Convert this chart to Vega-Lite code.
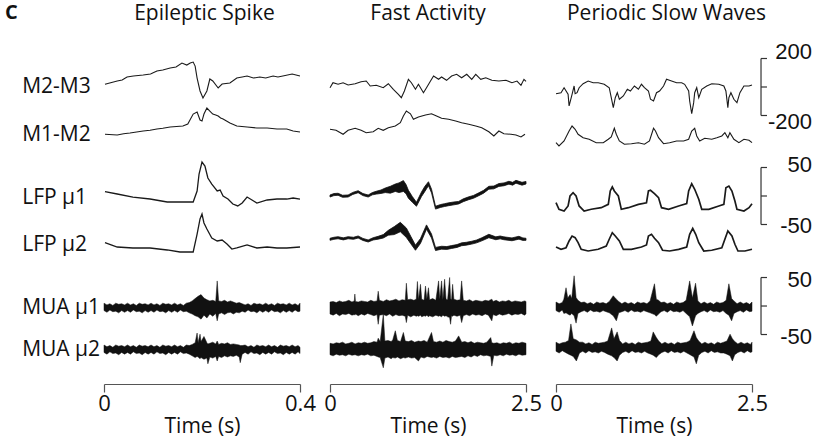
{
  "$schema": "https://vega.github.io/schema/vega-lite/v6.json",
  "background": "white",
  "padding": {"left": 5, "top": 2, "right": 0, "bottom": 0},
  "bounds": "flush",
  "spacing": 30,
  "config": {
    "view": {"stroke": null},
    "font": "Open Sans",
    "axis": {
      "grid": false, "domainColor": "#555", "tickColor": "#555", "domainWidth": 1.2, "tickWidth": 1.2, "tickSize": 8,
      "labelFont": "Open Sans", "labelFontSize": 22, "labelColor": "#111", "labelPadding": 1, "labelOverlap": false, "labelFlush": false,
      "titleFont": "Open Sans", "titleFontSize": 21, "titleFontWeight": "normal", "titleColor": "#111", "titlePadding": 1
    }
  },
  "datasets": {
    "es_m23": [{"t":0.002,"v":19},{"t":0.027,"v":42},{"t":0.037,"v":49},{"t":0.047,"v":70},{"t":0.06,"v":77},{"t":0.08,"v":84},{"t":0.095,"v":91},{"t":0.108,"v":112},{"t":0.12,"v":119},{"t":0.135,"v":133},{"t":0.147,"v":140},{"t":0.159,"v":168},{"t":0.169,"v":154},{"t":0.176,"v":168},{"t":0.182,"v":175},{"t":0.186,"v":147},{"t":0.19,"v":63},{"t":0.196,"v":-28},{"t":0.202,"v":-77},{"t":0.21,"v":-28},{"t":0.216,"v":56},{"t":0.222,"v":42},{"t":0.233,"v":-7},{"t":0.241,"v":21},{"t":0.257,"v":28},{"t":0.271,"v":63},{"t":0.282,"v":70},{"t":0.292,"v":77},{"t":0.305,"v":63},{"t":0.318,"v":70},{"t":0.33,"v":63},{"t":0.345,"v":77},{"t":0.355,"v":70},{"t":0.365,"v":77},{"t":0.384,"v":91},{"t":0.4,"v":77}],
    "es_m12": [{"t":0.002,"v":-16},{"t":0.027,"v":-21},{"t":0.04,"v":-12},{"t":0.053,"v":-7},{"t":0.08,"v":7},{"t":0.094,"v":12},{"t":0.108,"v":21},{"t":0.12,"v":26},{"t":0.135,"v":35},{"t":0.161,"v":42},{"t":0.171,"v":56},{"t":0.182,"v":126},{"t":0.19,"v":140},{"t":0.196,"v":84},{"t":0.2,"v":77},{"t":0.204,"v":126},{"t":0.21,"v":168},{"t":0.216,"v":147},{"t":0.222,"v":126},{"t":0.228,"v":119},{"t":0.233,"v":112},{"t":0.238,"v":98},{"t":0.243,"v":91},{"t":0.257,"v":63},{"t":0.271,"v":42},{"t":0.292,"v":35},{"t":0.312,"v":28},{"t":0.333,"v":28},{"t":0.353,"v":21},{"t":0.373,"v":21},{"t":0.386,"v":7},{"t":0.4,"v":0}],
    "es_l1": [{"t":0.002,"v":7.5},{"t":0.027,"v":3.5},{"t":0.059,"v":-1.8},{"t":0.094,"v":-5.3},{"t":0.129,"v":-10.5},{"t":0.155,"v":-10.5},{"t":0.182,"v":-10.5},{"t":0.19,"v":8.8},{"t":0.194,"v":38.6},{"t":0.2,"v":59.6},{"t":0.206,"v":52.6},{"t":0.212,"v":31.6},{"t":0.22,"v":21},{"t":0.231,"v":8.8},{"t":0.237,"v":10.5},{"t":0.243,"v":0},{"t":0.253,"v":-5.3},{"t":0.263,"v":-14},{"t":0.273,"v":-17.5},{"t":0.282,"v":-12.3},{"t":0.292,"v":-1.8},{"t":0.302,"v":-7},{"t":0.312,"v":-12.3},{"t":0.333,"v":-7},{"t":0.353,"v":-5.3},{"t":0.373,"v":-5.3},{"t":0.386,"v":-3.5},{"t":0.4,"v":-5.3}],
    "es_l2": [{"t":0.002,"v":5.8},{"t":0.027,"v":-1.8},{"t":0.059,"v":-3.5},{"t":0.094,"v":-3.5},{"t":0.129,"v":-7},{"t":0.155,"v":-10.5},{"t":0.182,"v":-10.5},{"t":0.19,"v":21},{"t":0.196,"v":47.4},{"t":0.2,"v":56},{"t":0.204,"v":40.4},{"t":0.21,"v":29.8},{"t":0.22,"v":14},{"t":0.231,"v":8.8},{"t":0.241,"v":10.5},{"t":0.251,"v":3.5},{"t":0.261,"v":-5.3},{"t":0.271,"v":-3.5},{"t":0.292,"v":1.8},{"t":0.312,"v":-3.5},{"t":0.333,"v":-1.8},{"t":0.353,"v":-3.5},{"t":0.373,"v":-3.5},{"t":0.4,"v":-1.8}],
    "es_u1": [{"t":0,"lo":-8,"hi":5},{"t":0.006,"lo":-11,"hi":2},{"t":0.012,"lo":-7,"hi":4},{"t":0.018,"lo":-10,"hi":1},{"t":0.024,"lo":-9,"hi":5},{"t":0.03,"lo":-12,"hi":3},{"t":0.036,"lo":-8,"hi":4},{"t":0.042,"lo":-11,"hi":2},{"t":0.048,"lo":-8,"hi":5},{"t":0.054,"lo":-11,"hi":2},{"t":0.06,"lo":-7,"hi":4},{"t":0.066,"lo":-10,"hi":1},{"t":0.072,"lo":-9,"hi":5},{"t":0.078,"lo":-12,"hi":3},{"t":0.084,"lo":-8,"hi":4},{"t":0.09,"lo":-11,"hi":2},{"t":0.096,"lo":-8,"hi":5},{"t":0.102,"lo":-11,"hi":2},{"t":0.108,"lo":-7,"hi":4},{"t":0.114,"lo":-10,"hi":1},{"t":0.12,"lo":-9,"hi":5},{"t":0.126,"lo":-12,"hi":3},{"t":0.132,"lo":-8,"hi":4},{"t":0.138,"lo":-11,"hi":2},{"t":0.144,"lo":-8,"hi":5},{"t":0.15,"lo":-11,"hi":2},{"t":0.156,"lo":-7,"hi":4},{"t":0.162,"lo":-10,"hi":1},{"t":0.168,"lo":-9,"hi":5},{"t":0.174,"lo":-12,"hi":6},{"t":0.18,"lo":-14,"hi":9},{"t":0.186,"lo":-17,"hi":13},{"t":0.192,"lo":-19,"hi":17},{"t":0.198,"lo":-23,"hi":20},{"t":0.204,"lo":-16,"hi":14},{"t":0.21,"lo":-21,"hi":11},{"t":0.216,"lo":-14,"hi":9},{"t":0.222,"lo":-18,"hi":10},{"t":0.228,"lo":-13,"hi":8},{"t":0.231,"lo":-26,"hi":44},{"t":0.234,"lo":-14,"hi":9},{"t":0.24,"lo":-12,"hi":8},{"t":0.246,"lo":-15,"hi":10},{"t":0.252,"lo":-12,"hi":7},{"t":0.258,"lo":-11,"hi":9},{"t":0.264,"lo":-14,"hi":7},{"t":0.27,"lo":-11,"hi":5},{"t":0.276,"lo":-12,"hi":6},{"t":0.282,"lo":-9,"hi":4},{"t":0.288,"lo":-11,"hi":2},{"t":0.294,"lo":-7,"hi":4},{"t":0.3,"lo":-10,"hi":1},{"t":0.306,"lo":-9,"hi":5},{"t":0.312,"lo":-12,"hi":3},{"t":0.318,"lo":-8,"hi":4},{"t":0.324,"lo":-11,"hi":2},{"t":0.33,"lo":-8,"hi":5},{"t":0.336,"lo":-11,"hi":2},{"t":0.342,"lo":-7,"hi":4},{"t":0.348,"lo":-10,"hi":1},{"t":0.354,"lo":-9,"hi":5},{"t":0.36,"lo":-12,"hi":3},{"t":0.366,"lo":-8,"hi":4},{"t":0.372,"lo":-11,"hi":2},{"t":0.378,"lo":-8,"hi":5},{"t":0.384,"lo":-11,"hi":2},{"t":0.39,"lo":-7,"hi":4},{"t":0.396,"lo":-10,"hi":1},{"t":0.4,"lo":-9,"hi":5}],
    "es_u2": [{"t":0,"lo":-6,"hi":7},{"t":0.006,"lo":-9,"hi":4},{"t":0.012,"lo":-5,"hi":6},{"t":0.018,"lo":-8,"hi":3},{"t":0.024,"lo":-7,"hi":7},{"t":0.03,"lo":-10,"hi":5},{"t":0.036,"lo":-6,"hi":6},{"t":0.042,"lo":-9,"hi":4},{"t":0.048,"lo":-6,"hi":7},{"t":0.054,"lo":-9,"hi":4},{"t":0.06,"lo":-5,"hi":6},{"t":0.066,"lo":-8,"hi":3},{"t":0.072,"lo":-7,"hi":7},{"t":0.078,"lo":-10,"hi":5},{"t":0.084,"lo":-6,"hi":6},{"t":0.09,"lo":-9,"hi":4},{"t":0.096,"lo":-6,"hi":7},{"t":0.102,"lo":-9,"hi":4},{"t":0.108,"lo":-5,"hi":6},{"t":0.114,"lo":-8,"hi":3},{"t":0.12,"lo":-7,"hi":7},{"t":0.126,"lo":-10,"hi":5},{"t":0.132,"lo":-6,"hi":6},{"t":0.138,"lo":-9,"hi":4},{"t":0.144,"lo":-6,"hi":7},{"t":0.15,"lo":-9,"hi":4},{"t":0.156,"lo":-5,"hi":6},{"t":0.162,"lo":-8,"hi":3},{"t":0.168,"lo":-7,"hi":7},{"t":0.174,"lo":-9,"hi":6},{"t":0.18,"lo":-12,"hi":8},{"t":0.186,"lo":-15,"hi":11},{"t":0.19,"lo":-13,"hi":28},{"t":0.192,"lo":-14,"hi":11},{"t":0.196,"lo":-17,"hi":26},{"t":0.198,"lo":-15,"hi":13},{"t":0.204,"lo":-18,"hi":22},{"t":0.21,"lo":-16,"hi":11},{"t":0.212,"lo":-26,"hi":9},{"t":0.216,"lo":-14,"hi":10},{"t":0.222,"lo":-16,"hi":12},{"t":0.228,"lo":-13,"hi":9},{"t":0.231,"lo":-21,"hi":14},{"t":0.234,"lo":-13,"hi":8},{"t":0.24,"lo":-15,"hi":10},{"t":0.246,"lo":-12,"hi":9},{"t":0.252,"lo":-14,"hi":11},{"t":0.258,"lo":-12,"hi":8},{"t":0.264,"lo":-13,"hi":9},{"t":0.27,"lo":-11,"hi":8},{"t":0.276,"lo":-14,"hi":7},{"t":0.278,"lo":-24,"hi":6},{"t":0.282,"lo":-9,"hi":6},{"t":0.288,"lo":-6,"hi":7},{"t":0.294,"lo":-9,"hi":4},{"t":0.3,"lo":-5,"hi":6},{"t":0.306,"lo":-8,"hi":3},{"t":0.312,"lo":-7,"hi":7},{"t":0.318,"lo":-10,"hi":5},{"t":0.324,"lo":-6,"hi":6},{"t":0.33,"lo":-9,"hi":4},{"t":0.336,"lo":-6,"hi":7},{"t":0.342,"lo":-9,"hi":4},{"t":0.348,"lo":-5,"hi":6},{"t":0.354,"lo":-8,"hi":3},{"t":0.36,"lo":-7,"hi":7},{"t":0.366,"lo":-10,"hi":5},{"t":0.372,"lo":-6,"hi":6},{"t":0.378,"lo":-9,"hi":4},{"t":0.384,"lo":-6,"hi":7},{"t":0.39,"lo":-9,"hi":4},{"t":0.396,"lo":-5,"hi":6},{"t":0.4,"lo":-8,"hi":3}],
    "fa_m23": [{"t":0,"v":-5},{"t":0.038,"v":30},{"t":0.103,"v":19},{"t":0.167,"v":30},{"t":0.231,"v":14},{"t":0.321,"v":23},{"t":0.397,"v":37},{"t":0.462,"v":42},{"t":0.513,"v":7},{"t":0.59,"v":12},{"t":0.679,"v":-5},{"t":0.744,"v":23},{"t":0.808,"v":-16},{"t":0.872,"v":-51},{"t":0.91,"v":-75},{"t":0.949,"v":-28},{"t":1.0,"v":54},{"t":1.038,"v":30},{"t":1.09,"v":-16},{"t":1.128,"v":19},{"t":1.192,"v":-40},{"t":1.231,"v":-5},{"t":1.282,"v":42},{"t":1.321,"v":77},{"t":1.385,"v":54},{"t":1.423,"v":70},{"t":1.487,"v":47},{"t":1.551,"v":77},{"t":1.615,"v":89},{"t":1.679,"v":65},{"t":1.744,"v":89},{"t":1.808,"v":54},{"t":1.859,"v":89},{"t":1.923,"v":54},{"t":1.987,"v":65},{"t":2.064,"v":47},{"t":2.154,"v":42},{"t":2.244,"v":47},{"t":2.321,"v":30},{"t":2.385,"v":42},{"t":2.436,"v":12},{"t":2.474,"v":54},{"t":2.5,"v":40}],
    "fa_m12": [{"t":0,"v":19},{"t":0.077,"v":12},{"t":0.167,"v":-16},{"t":0.231,"v":12},{"t":0.321,"v":26},{"t":0.397,"v":12},{"t":0.462,"v":-5},{"t":0.551,"v":2},{"t":0.615,"v":26},{"t":0.679,"v":12},{"t":0.744,"v":30},{"t":0.833,"v":42},{"t":0.897,"v":65},{"t":0.936,"v":112},{"t":0.974,"v":147},{"t":1.026,"v":128},{"t":1.064,"v":89},{"t":1.128,"v":105},{"t":1.218,"v":119},{"t":1.295,"v":128},{"t":1.359,"v":112},{"t":1.423,"v":96},{"t":1.513,"v":89},{"t":1.603,"v":77},{"t":1.679,"v":65},{"t":1.769,"v":54},{"t":1.859,"v":42},{"t":1.936,"v":30},{"t":2.026,"v":2},{"t":2.09,"v":-28},{"t":2.154,"v":7},{"t":2.218,"v":-12},{"t":2.308,"v":-16},{"t":2.372,"v":-21},{"t":2.436,"v":-35},{"t":2.487,"v":-16}],
    "fa_l1": [{"t":0,"lo":-1.8,"hi":1.8},{"t":0.05,"lo":0.7,"hi":4.3},{"t":0.103,"lo":1.2,"hi":4.8},{"t":0.16,"lo":-2.3,"hi":1.3},{"t":0.231,"lo":-1.8,"hi":1.8},{"t":0.29,"lo":2.7,"hi":6.3},{"t":0.359,"lo":5.7,"hi":9.3},{"t":0.42,"lo":0.7,"hi":4.3},{"t":0.487,"lo":-1.8,"hi":1.8},{"t":0.54,"lo":2,"hi":6},{"t":0.59,"lo":3.3,"hi":8.3},{"t":0.65,"lo":4.5,"hi":10.5},{"t":0.705,"lo":6,"hi":14},{"t":0.77,"lo":5,"hi":17},{"t":0.833,"lo":8,"hi":21},{"t":0.88,"lo":6,"hi":23},{"t":0.936,"lo":8,"hi":27},{"t":0.97,"lo":4,"hi":20},{"t":1.0,"lo":-4,"hi":10},{"t":1.05,"lo":-11,"hi":-1},{"t":1.103,"lo":-18,"hi":-11},{"t":1.167,"lo":-1,"hi":7},{"t":1.21,"lo":8,"hi":17},{"t":1.256,"lo":18,"hi":25},{"t":1.295,"lo":5.5,"hi":12},{"t":1.346,"lo":-23,"hi":-18},{"t":1.41,"lo":-20,"hi":-15},{"t":1.46,"lo":-18.5,"hi":-13.5},{"t":1.513,"lo":-17,"hi":-12},{"t":1.58,"lo":-15.5,"hi":-10.5},{"t":1.641,"lo":-14,"hi":-9.5},{"t":1.7,"lo":-10,"hi":-5},{"t":1.769,"lo":-6.5,"hi":-1.5},{"t":1.83,"lo":-4,"hi":1},{"t":1.897,"lo":0.5,"hi":5.5},{"t":1.96,"lo":5,"hi":10},{"t":2.026,"lo":12,"hi":17},{"t":2.09,"lo":12.5,"hi":17.5},{"t":2.154,"lo":16.8,"hi":21.8},{"t":2.22,"lo":18,"hi":23},{"t":2.282,"lo":20.8,"hi":25.8},{"t":2.33,"lo":19,"hi":24},{"t":2.372,"lo":22.5,"hi":27.5},{"t":2.449,"lo":19,"hi":24},{"t":2.5,"lo":21,"hi":25.5}],
    "fa_l2": [{"t":0,"lo":10,"hi":13.5},{"t":0.05,"lo":11.7,"hi":15.3},{"t":0.103,"lo":12.7,"hi":16.3},{"t":0.17,"lo":10.7,"hi":14.3},{"t":0.231,"lo":12.7,"hi":16.3},{"t":0.3,"lo":11.7,"hi":15.3},{"t":0.359,"lo":14,"hi":17.6},{"t":0.42,"lo":9.7,"hi":13.3},{"t":0.487,"lo":7,"hi":10.6},{"t":0.55,"lo":10.5,"hi":14.5},{"t":0.615,"lo":12,"hi":17},{"t":0.68,"lo":14,"hi":20},{"t":0.744,"lo":19,"hi":27.5},{"t":0.82,"lo":20,"hi":34},{"t":0.897,"lo":25,"hi":41.5},{"t":0.974,"lo":15,"hi":31.5},{"t":1.03,"lo":4,"hi":17},{"t":1.09,"lo":-7.5,"hi":1.5},{"t":1.154,"lo":4.5,"hi":13},{"t":1.231,"lo":29.5,"hi":37},{"t":1.295,"lo":14,"hi":21},{"t":1.346,"lo":-8,"hi":-2.5},{"t":1.423,"lo":-5.5,"hi":-0.5},{"t":1.49,"lo":-6,"hi":-1},{"t":1.551,"lo":-4.3,"hi":0.7},{"t":1.62,"lo":-2.5,"hi":2.5},{"t":1.679,"lo":0.5,"hi":5.5},{"t":1.74,"lo":1.5,"hi":6.5},{"t":1.808,"lo":3.3,"hi":8.3},{"t":1.87,"lo":5.5,"hi":10.5},{"t":1.936,"lo":9,"hi":14.4},{"t":2.026,"lo":14.5,"hi":20.5},{"t":2.115,"lo":11,"hi":16},{"t":2.17,"lo":12.5,"hi":17.5},{"t":2.218,"lo":11,"hi":16},{"t":2.321,"lo":9.2,"hi":14.2},{"t":2.41,"lo":12,"hi":17},{"t":2.46,"lo":9.8,"hi":14.2},{"t":2.5,"lo":9.9,"hi":13.5}],
    "fa_u1": [{"t":0,"lo":-14,"hi":7},{"t":0.04,"lo":-16,"hi":8},{"t":0.08,"lo":-13,"hi":6},{"t":0.12,"lo":-17,"hi":9},{"t":0.16,"lo":-14,"hi":7},{"t":0.2,"lo":-15,"hi":8},{"t":0.24,"lo":-13,"hi":10},{"t":0.28,"lo":-16,"hi":7},{"t":0.31,"lo":-15,"hi":9},{"t":0.317,"lo":-16,"hi":21},{"t":0.325,"lo":-14,"hi":8},{"t":0.36,"lo":-17,"hi":7},{"t":0.4,"lo":-14,"hi":9},{"t":0.44,"lo":-16,"hi":8},{"t":0.48,"lo":-13,"hi":7},{"t":0.52,"lo":-15,"hi":10},{"t":0.56,"lo":-17,"hi":8},{"t":0.6,"lo":-15,"hi":9},{"t":0.615,"lo":-32,"hi":26},{"t":0.63,"lo":-16,"hi":10},{"t":0.68,"lo":-15,"hi":8},{"t":0.72,"lo":-17,"hi":11},{"t":0.76,"lo":-14,"hi":9},{"t":0.8,"lo":-18,"hi":10},{"t":0.84,"lo":-15,"hi":12},{"t":0.88,"lo":-17,"hi":9},{"t":0.92,"lo":-16,"hi":11},{"t":0.96,"lo":-18,"hi":10},{"t":0.974,"lo":-29,"hi":40},{"t":0.99,"lo":-16,"hi":11},{"t":1.03,"lo":-19,"hi":12},{"t":1.07,"lo":-16,"hi":10},{"t":1.1,"lo":-18,"hi":12},{"t":1.115,"lo":-17,"hi":43},{"t":1.13,"lo":-18,"hi":11},{"t":1.154,"lo":-16,"hi":38},{"t":1.17,"lo":-19,"hi":12},{"t":1.2,"lo":-17,"hi":10},{"t":1.218,"lo":-18,"hi":35},{"t":1.235,"lo":-16,"hi":12},{"t":1.256,"lo":-19,"hi":32},{"t":1.27,"lo":-17,"hi":11},{"t":1.31,"lo":-19,"hi":13},{"t":1.35,"lo":-16,"hi":10},{"t":1.385,"lo":-18,"hi":44},{"t":1.4,"lo":-17,"hi":12},{"t":1.423,"lo":-19,"hi":44},{"t":1.44,"lo":-16,"hi":11},{"t":1.462,"lo":-18,"hi":47},{"t":1.48,"lo":-17,"hi":12},{"t":1.5,"lo":-19,"hi":11},{"t":1.526,"lo":-20,"hi":50},{"t":1.538,"lo":-32,"hi":13},{"t":1.55,"lo":-17,"hi":11},{"t":1.564,"lo":-18,"hi":38},{"t":1.58,"lo":-16,"hi":12},{"t":1.62,"lo":-18,"hi":10},{"t":1.66,"lo":-16,"hi":11},{"t":1.679,"lo":-29,"hi":44},{"t":1.7,"lo":-17,"hi":10},{"t":1.74,"lo":-15,"hi":9},{"t":1.78,"lo":-17,"hi":11},{"t":1.82,"lo":-14,"hi":8},{"t":1.86,"lo":-16,"hi":10},{"t":1.9,"lo":-15,"hi":9},{"t":1.94,"lo":-17,"hi":8},{"t":1.98,"lo":-14,"hi":10},{"t":2.02,"lo":-16,"hi":9},{"t":2.064,"lo":-26,"hi":12},{"t":2.08,"lo":-15,"hi":8},{"t":2.12,"lo":-17,"hi":10},{"t":2.16,"lo":-14,"hi":7},{"t":2.2,"lo":-16,"hi":9},{"t":2.24,"lo":-15,"hi":8},{"t":2.28,"lo":-13,"hi":10},{"t":2.32,"lo":-16,"hi":7},{"t":2.36,"lo":-14,"hi":9},{"t":2.4,"lo":-15,"hi":8},{"t":2.44,"lo":-13,"hi":7},{"t":2.48,"lo":-16,"hi":9},{"t":2.5,"lo":-14,"hi":8}],
    "fa_u2": [{"t":0,"lo":-10,"hi":10},{"t":0.04,"lo":-12,"hi":9},{"t":0.08,"lo":-9,"hi":11},{"t":0.12,"lo":-11,"hi":10},{"t":0.16,"lo":-10,"hi":12},{"t":0.2,"lo":-12,"hi":9},{"t":0.24,"lo":-9,"hi":10},{"t":0.28,"lo":-11,"hi":12},{"t":0.32,"lo":-10,"hi":9},{"t":0.36,"lo":-12,"hi":11},{"t":0.4,"lo":-10,"hi":10},{"t":0.44,"lo":-11,"hi":12},{"t":0.48,"lo":-9,"hi":10},{"t":0.52,"lo":-12,"hi":11},{"t":0.56,"lo":-11,"hi":13},{"t":0.6,"lo":-13,"hi":12},{"t":0.615,"lo":-14,"hi":19},{"t":0.64,"lo":-15,"hi":13},{"t":0.68,"lo":-33,"hi":61},{"t":0.7,"lo":-16,"hi":14},{"t":0.74,"lo":-14,"hi":15},{"t":0.78,"lo":-17,"hi":13},{"t":0.8,"lo":-15,"hi":16},{"t":0.833,"lo":-16,"hi":32},{"t":0.86,"lo":-14,"hi":15},{"t":0.9,"lo":-17,"hi":13},{"t":0.936,"lo":-15,"hi":29},{"t":0.96,"lo":-16,"hi":14},{"t":1.0,"lo":-14,"hi":13},{"t":1.04,"lo":-16,"hi":15},{"t":1.08,"lo":-15,"hi":12},{"t":1.128,"lo":-21,"hi":14},{"t":1.16,"lo":-14,"hi":13},{"t":1.2,"lo":-16,"hi":15},{"t":1.24,"lo":-13,"hi":12},{"t":1.295,"lo":-15,"hi":29},{"t":1.32,"lo":-14,"hi":13},{"t":1.36,"lo":-16,"hi":12},{"t":1.4,"lo":-13,"hi":14},{"t":1.44,"lo":-15,"hi":12},{"t":1.48,"lo":-14,"hi":15},{"t":1.52,"lo":-16,"hi":13},{"t":1.56,"lo":-13,"hi":12},{"t":1.6,"lo":-15,"hi":14},{"t":1.641,"lo":-14,"hi":23},{"t":1.68,"lo":-13,"hi":12},{"t":1.72,"lo":-15,"hi":13},{"t":1.76,"lo":-12,"hi":11},{"t":1.8,"lo":-14,"hi":13},{"t":1.84,"lo":-11,"hi":10},{"t":1.88,"lo":-13,"hi":12},{"t":1.92,"lo":-10,"hi":11},{"t":1.96,"lo":-12,"hi":10},{"t":2.0,"lo":-11,"hi":12},{"t":2.05,"lo":-13,"hi":20},{"t":2.064,"lo":-30,"hi":11},{"t":2.09,"lo":-11,"hi":10},{"t":2.13,"lo":-12,"hi":11},{"t":2.17,"lo":-10,"hi":9},{"t":2.21,"lo":-12,"hi":11},{"t":2.25,"lo":-9,"hi":10},{"t":2.29,"lo":-11,"hi":12},{"t":2.33,"lo":-10,"hi":9},{"t":2.37,"lo":-12,"hi":11},{"t":2.41,"lo":-9,"hi":10},{"t":2.45,"lo":-11,"hi":12},{"t":2.5,"lo":-10,"hi":10}],
    "ps_m23": [{"t":0,"v":-47},{"t":0.064,"v":-40},{"t":0.103,"v":-5},{"t":0.154,"v":-51},{"t":0.167,"v":-133},{"t":0.205,"v":-51},{"t":0.231,"v":7},{"t":0.244,"v":-47},{"t":0.269,"v":-40},{"t":0.295,"v":-5},{"t":0.346,"v":23},{"t":0.41,"v":42},{"t":0.474,"v":30},{"t":0.538,"v":30},{"t":0.615,"v":19},{"t":0.679,"v":-5},{"t":0.705,"v":-75},{"t":0.731,"v":-145},{"t":0.756,"v":-75},{"t":0.782,"v":-40},{"t":0.808,"v":-86},{"t":0.859,"v":-63},{"t":0.91,"v":-16},{"t":0.949,"v":-28},{"t":1.0,"v":7},{"t":1.051,"v":-16},{"t":1.09,"v":19},{"t":1.128,"v":-5},{"t":1.179,"v":-28},{"t":1.205,"v":-86},{"t":1.244,"v":-98},{"t":1.282,"v":-40},{"t":1.321,"v":-28},{"t":1.372,"v":7},{"t":1.41,"v":54},{"t":1.474,"v":42},{"t":1.538,"v":30},{"t":1.603,"v":30},{"t":1.641,"v":19},{"t":1.692,"v":-28},{"t":1.705,"v":-98},{"t":1.731,"v":-187},{"t":1.756,"v":-110},{"t":1.769,"v":-40},{"t":1.795,"v":-5},{"t":1.821,"v":-75},{"t":1.859,"v":-16},{"t":1.923,"v":7},{"t":1.987,"v":23},{"t":2.077,"v":19},{"t":2.141,"v":7},{"t":2.167,"v":-28},{"t":2.192,"v":-145},{"t":2.205,"v":-75},{"t":2.231,"v":-40},{"t":2.269,"v":-86},{"t":2.308,"v":-110},{"t":2.346,"v":-40},{"t":2.397,"v":7},{"t":2.462,"v":7},{"t":2.5,"v":14}],
    "ps_m12": [{"t":0,"v":-75},{"t":0.038,"v":-98},{"t":0.103,"v":-63},{"t":0.167,"v":7},{"t":0.205,"v":42},{"t":0.244,"v":19},{"t":0.282,"v":-16},{"t":0.346,"v":-40},{"t":0.423,"v":-51},{"t":0.513,"v":-75},{"t":0.603,"v":-75},{"t":0.667,"v":-51},{"t":0.705,"v":-35},{"t":0.744,"v":26},{"t":0.769,"v":-16},{"t":0.808,"v":-63},{"t":0.872,"v":-86},{"t":0.962,"v":-82},{"t":1.051,"v":-75},{"t":1.128,"v":-86},{"t":1.192,"v":-63},{"t":1.244,"v":26},{"t":1.269,"v":7},{"t":1.308,"v":-40},{"t":1.372,"v":-82},{"t":1.449,"v":-75},{"t":1.538,"v":-63},{"t":1.628,"v":-63},{"t":1.692,"v":-51},{"t":1.731,"v":7},{"t":1.769,"v":26},{"t":1.795,"v":-28},{"t":1.833,"v":-63},{"t":1.897,"v":-44},{"t":1.987,"v":-51},{"t":2.051,"v":-40},{"t":2.115,"v":-28},{"t":2.154,"v":-5},{"t":2.192,"v":-40},{"t":2.218,"v":-5},{"t":2.269,"v":-51},{"t":2.333,"v":-75},{"t":2.397,"v":-51},{"t":2.462,"v":-58},{"t":2.5,"v":-75}],
    "ps_l1": [{"t":0,"v":-11.8},{"t":0.038,"v":-23.3},{"t":0.103,"v":-26.3},{"t":0.154,"v":-17.5},{"t":0.179,"v":0},{"t":0.218,"v":5.8},{"t":0.256,"v":0},{"t":0.295,"v":-17.5},{"t":0.359,"v":-26.3},{"t":0.449,"v":-23.3},{"t":0.577,"v":-20.5},{"t":0.667,"v":-14.6},{"t":0.692,"v":8.8},{"t":0.718,"v":15.8},{"t":0.744,"v":8.8},{"t":0.795,"v":0},{"t":0.833,"v":-23.3},{"t":0.923,"v":-20.5},{"t":1.051,"v":-14.6},{"t":1.154,"v":-11.8},{"t":1.179,"v":8.8},{"t":1.205,"v":10},{"t":1.256,"v":4},{"t":1.308,"v":-3},{"t":1.346,"v":-20.5},{"t":1.436,"v":-23.3},{"t":1.564,"v":-17.5},{"t":1.667,"v":-13.5},{"t":1.692,"v":8.8},{"t":1.731,"v":21.6},{"t":1.769,"v":11.8},{"t":1.821,"v":-5.8},{"t":1.859,"v":-23.3},{"t":1.949,"v":-23.3},{"t":2.077,"v":-17.5},{"t":2.141,"v":-14.6},{"t":2.167,"v":14.6},{"t":2.205,"v":17.5},{"t":2.244,"v":8.8},{"t":2.282,"v":-8.8},{"t":2.308,"v":-23.3},{"t":2.397,"v":-26.3},{"t":2.462,"v":-20.5},{"t":2.5,"v":-13.5}],
    "ps_l2": [{"t":0,"v":-1.8},{"t":0.064,"v":-5.8},{"t":0.128,"v":-3},{"t":0.167,"v":8.8},{"t":0.205,"v":17.5},{"t":0.244,"v":14.6},{"t":0.282,"v":5.8},{"t":0.321,"v":-5.8},{"t":0.41,"v":-8.8},{"t":0.538,"v":-5.8},{"t":0.641,"v":0},{"t":0.679,"v":11.8},{"t":0.718,"v":23.3},{"t":0.756,"v":17.5},{"t":0.808,"v":8.8},{"t":0.859,"v":-5.8},{"t":0.962,"v":-5.8},{"t":1.09,"v":-1.8},{"t":1.154,"v":1.8},{"t":1.179,"v":17.5},{"t":1.218,"v":20.5},{"t":1.256,"v":13.5},{"t":1.308,"v":5.8},{"t":1.359,"v":-7.5},{"t":1.449,"v":-8.8},{"t":1.564,"v":-5.8},{"t":1.667,"v":-1.8},{"t":1.705,"v":20.5},{"t":1.744,"v":31},{"t":1.782,"v":20.5},{"t":1.821,"v":5.8},{"t":1.885,"v":-8.8},{"t":1.987,"v":-7.5},{"t":2.115,"v":-3},{"t":2.154,"v":11.8},{"t":2.192,"v":26.3},{"t":2.244,"v":17.5},{"t":2.282,"v":3},{"t":2.321,"v":-8.8},{"t":2.41,"v":-8.8},{"t":2.5,"v":-5.8}],
    "ps_u1": [{"t":0,"lo":-8,"hi":7},{"t":0.04,"lo":-11,"hi":4},{"t":0.08,"lo":-7,"hi":6},{"t":0.1,"lo":-13,"hi":12},{"t":0.128,"lo":-12,"hi":32},{"t":0.15,"lo":-14,"hi":14},{"t":0.18,"lo":-16,"hi":20},{"t":0.2,"lo":-13,"hi":13},{"t":0.231,"lo":-17,"hi":53},{"t":0.256,"lo":-30,"hi":15},{"t":0.28,"lo":-13,"hi":10},{"t":0.32,"lo":-10,"hi":6},{"t":0.36,"lo":-8,"hi":7},{"t":0.4,"lo":-11,"hi":4},{"t":0.44,"lo":-7,"hi":6},{"t":0.48,"lo":-10,"hi":3},{"t":0.52,"lo":-9,"hi":7},{"t":0.56,"lo":-11,"hi":5},{"t":0.6,"lo":-8,"hi":6},{"t":0.64,"lo":-10,"hi":4},{"t":0.68,"lo":-12,"hi":8},{"t":0.73,"lo":-17,"hi":18},{"t":0.77,"lo":-26,"hi":12},{"t":0.8,"lo":-12,"hi":8},{"t":0.84,"lo":-10,"hi":4},{"t":0.88,"lo":-8,"hi":7},{"t":0.92,"lo":-11,"hi":4},{"t":0.96,"lo":-7,"hi":6},{"t":1.0,"lo":-10,"hi":3},{"t":1.04,"lo":-9,"hi":7},{"t":1.08,"lo":-11,"hi":5},{"t":1.12,"lo":-8,"hi":6},{"t":1.16,"lo":-10,"hi":4},{"t":1.2,"lo":-12,"hi":9},{"t":1.256,"lo":-15,"hi":39},{"t":1.28,"lo":-18,"hi":12},{"t":1.308,"lo":-14,"hi":10},{"t":1.34,"lo":-10,"hi":6},{"t":1.38,"lo":-8,"hi":7},{"t":1.42,"lo":-11,"hi":4},{"t":1.46,"lo":-7,"hi":6},{"t":1.5,"lo":-10,"hi":3},{"t":1.54,"lo":-9,"hi":7},{"t":1.58,"lo":-11,"hi":5},{"t":1.62,"lo":-8,"hi":6},{"t":1.66,"lo":-13,"hi":10},{"t":1.705,"lo":-19,"hi":44},{"t":1.74,"lo":-35,"hi":14},{"t":1.78,"lo":-17,"hi":40},{"t":1.81,"lo":-13,"hi":9},{"t":1.85,"lo":-10,"hi":4},{"t":1.89,"lo":-8,"hi":7},{"t":1.93,"lo":-11,"hi":4},{"t":1.97,"lo":-7,"hi":6},{"t":2.01,"lo":-10,"hi":3},{"t":2.05,"lo":-9,"hi":7},{"t":2.09,"lo":-11,"hi":5},{"t":2.13,"lo":-8,"hi":6},{"t":2.17,"lo":-13,"hi":10},{"t":2.205,"lo":-16,"hi":39},{"t":2.24,"lo":-26,"hi":13},{"t":2.27,"lo":-13,"hi":9},{"t":2.31,"lo":-10,"hi":4},{"t":2.35,"lo":-8,"hi":7},{"t":2.39,"lo":-11,"hi":4},{"t":2.43,"lo":-7,"hi":6},{"t":2.47,"lo":-10,"hi":3},{"t":2.5,"lo":-9,"hi":7}],
    "ps_u2": [{"t":0,"lo":-4,"hi":12},{"t":0.04,"lo":-7,"hi":9},{"t":0.08,"lo":-3,"hi":11},{"t":0.12,"lo":-6,"hi":12},{"t":0.16,"lo":-9,"hi":15},{"t":0.19,"lo":-11,"hi":44},{"t":0.22,"lo":-13,"hi":18},{"t":0.26,"lo":-21,"hi":16},{"t":0.3,"lo":-7,"hi":12},{"t":0.34,"lo":-4,"hi":12},{"t":0.38,"lo":-7,"hi":9},{"t":0.42,"lo":-3,"hi":11},{"t":0.46,"lo":-6,"hi":8},{"t":0.5,"lo":-5,"hi":12},{"t":0.54,"lo":-7,"hi":10},{"t":0.58,"lo":-4,"hi":11},{"t":0.62,"lo":-6,"hi":12},{"t":0.66,"lo":-9,"hi":14},{"t":0.71,"lo":-12,"hi":37},{"t":0.74,"lo":-15,"hi":18},{"t":0.78,"lo":-21,"hi":30},{"t":0.81,"lo":-11,"hi":15},{"t":0.85,"lo":-6,"hi":9},{"t":0.89,"lo":-4,"hi":12},{"t":0.93,"lo":-7,"hi":9},{"t":0.97,"lo":-3,"hi":11},{"t":1.01,"lo":-6,"hi":8},{"t":1.05,"lo":-5,"hi":12},{"t":1.09,"lo":-7,"hi":10},{"t":1.13,"lo":-4,"hi":11},{"t":1.17,"lo":-7,"hi":12},{"t":1.21,"lo":-9,"hi":14},{"t":1.24,"lo":-11,"hi":30},{"t":1.28,"lo":-15,"hi":20},{"t":1.31,"lo":-10,"hi":14},{"t":1.35,"lo":-6,"hi":9},{"t":1.39,"lo":-4,"hi":12},{"t":1.43,"lo":-7,"hi":9},{"t":1.47,"lo":-3,"hi":11},{"t":1.51,"lo":-6,"hi":8},{"t":1.55,"lo":-5,"hi":12},{"t":1.59,"lo":-7,"hi":10},{"t":1.63,"lo":-4,"hi":11},{"t":1.67,"lo":-7,"hi":12},{"t":1.71,"lo":-10,"hi":15},{"t":1.76,"lo":-14,"hi":32},{"t":1.79,"lo":-26,"hi":20},{"t":1.82,"lo":-11,"hi":14},{"t":1.86,"lo":-6,"hi":9},{"t":1.9,"lo":-4,"hi":12},{"t":1.94,"lo":-7,"hi":9},{"t":1.98,"lo":-3,"hi":11},{"t":2.02,"lo":-6,"hi":8},{"t":2.06,"lo":-5,"hi":12},{"t":2.1,"lo":-7,"hi":10},{"t":2.14,"lo":-7,"hi":12},{"t":2.18,"lo":-9,"hi":14},{"t":2.22,"lo":-12,"hi":26},{"t":2.25,"lo":-21,"hi":18},{"t":2.28,"lo":-10,"hi":13},{"t":2.32,"lo":-6,"hi":9},{"t":2.36,"lo":-4,"hi":12},{"t":2.4,"lo":-7,"hi":9},{"t":2.44,"lo":-3,"hi":11},{"t":2.48,"lo":-6,"hi":8},{"t":2.5,"lo":-5,"hi":12}]
  },
  "hconcat": [
    {
      "width": 196, "height": 343,
      "resolve": {"scale": {"y": "independent"}},
      "layer": [
        {"data": {"name": "es_m23"}, "layer": [
          {"mark": {"type": "line", "color": "#1a1a1a", "strokeWidth": 1.1}, "encoding": {"x": {"field": "t", "type": "quantitative", "scale": {"domain": [0, 0.4], "nice": false, "zero": false}, "axis": {"values": [0, 0.4], "format": ".2~g", "title": "Time (s)"}}, "y": {"field": "v", "type": "quantitative", "scale": {"domain": [-2084.2, 322.8], "nice": false, "zero": false}, "axis": null}}},
          {"data": {"values": [{}]}, "mark": {"type": "text", "align": "left", "baseline": "alphabetic", "fontSize": 21, "color": "#111"}, "encoding": {"x": {"datum": -0.167}, "y": {"datum": -42}, "text": {"value": "M2-M3"}}},
          {"data": {"values": [{}]}, "mark": {"type": "text", "align": "left", "baseline": "top", "fontSize": 20, "fontWeight": "bold", "color": "#111"}, "encoding": {"x": {"datum": -0.202}, "y": {"datum": 589.5}, "text": {"value": "C"}}},
          {"data": {"values": [{}]}, "mark": {"type": "text", "align": "center", "baseline": "top", "fontSize": 21, "color": "#111"}, "encoding": {"x": {"datum": 0.205}, "y": {"datum": 589.5}, "text": {"value": "Epileptic Spike"}}}
        ]},
        {"data": {"name": "es_m12"}, "layer": [
          {"mark": {"type": "line", "color": "#1a1a1a", "strokeWidth": 1.1}, "encoding": {"x": {"field": "t", "type": "quantitative", "scale": {"domain": [0, 0.4], "nice": false, "zero": false}, "axis": {"values": [0, 0.4], "format": ".2~g", "title": "Time (s)"}}, "y": {"field": "v", "type": "quantitative", "scale": {"domain": [-1768.4, 638.6], "nice": false, "zero": false}, "axis": null}}},
          {"data": {"values": [{}]}, "mark": {"type": "text", "align": "left", "baseline": "alphabetic", "fontSize": 21, "color": "#111"}, "encoding": {"x": {"datum": -0.167}, "y": {"datum": -63}, "text": {"value": "M1-M2"}}}
        ]},
        {"data": {"name": "es_l1"}, "layer": [
          {"mark": {"type": "line", "color": "#1a1a1a", "strokeWidth": 1.3}, "encoding": {"x": {"field": "t", "type": "quantitative", "scale": {"domain": [0, 0.4], "nice": false, "zero": false}, "axis": {"values": [0, 0.4], "format": ".2~g", "title": "Time (s)"}}, "y": {"field": "v", "type": "quantitative", "scale": {"domain": [-329.8, 271.9], "nice": false, "zero": false}, "axis": null}}},
          {"data": {"values": [{}]}, "mark": {"type": "text", "align": "left", "baseline": "alphabetic", "fontSize": 21, "color": "#111"}, "encoding": {"x": {"datum": -0.167}, "y": {"datum": -14}, "text": {"value": "LFP µ1"}}}
        ]},
        {"data": {"name": "es_l2"}, "layer": [
          {"mark": {"type": "line", "color": "#1a1a1a", "strokeWidth": 1.3}, "encoding": {"x": {"field": "t", "type": "quantitative", "scale": {"domain": [0, 0.4], "nice": false, "zero": false}, "axis": {"values": [0, 0.4], "format": ".2~g", "title": "Time (s)"}}, "y": {"field": "v", "type": "quantitative", "scale": {"domain": [-242.1, 359.6], "nice": false, "zero": false}, "axis": null}}},
          {"data": {"values": [{}]}, "mark": {"type": "text", "align": "left", "baseline": "alphabetic", "fontSize": 21, "color": "#111"}, "encoding": {"x": {"datum": -0.167}, "y": {"datum": -8.8}, "text": {"value": "LFP µ2"}}}
        ]},
        {"data": {"name": "es_u1"}, "layer": [
          {"mark": {"type": "area", "color": "#111", "stroke": "#111", "strokeWidth": 0.5}, "encoding": {"x": {"field": "t", "type": "quantitative", "scale": {"domain": [0, 0.4], "nice": false, "zero": false}, "axis": {"values": [0, 0.4], "format": ".2~g", "title": "Time (s)"}}, "y": {"field": "hi", "type": "quantitative", "scale": {"domain": [-136.8, 464.9], "nice": false, "zero": false}, "axis": null}, "y2": {"field": "lo"}}},
          {"data": {"values": [{}]}, "mark": {"type": "text", "align": "left", "baseline": "alphabetic", "fontSize": 21, "color": "#111"}, "encoding": {"x": {"datum": -0.167}, "y": {"datum": -14}, "text": {"value": "MUA µ1"}}}
        ]},
        {"data": {"name": "es_u2"}, "layer": [
          {"mark": {"type": "area", "color": "#111", "stroke": "#111", "strokeWidth": 0.5}, "encoding": {"x": {"field": "t", "type": "quantitative", "scale": {"domain": [0, 0.4], "nice": false, "zero": false}, "axis": {"values": [0, 0.4], "format": ".2~g", "title": "Time (s)"}}, "y": {"field": "hi", "type": "quantitative", "scale": {"domain": [-61.4, 540.4], "nice": false, "zero": false}, "axis": null}, "y2": {"field": "lo"}}},
          {"data": {"values": [{}]}, "mark": {"type": "text", "align": "left", "baseline": "alphabetic", "fontSize": 21, "color": "#111"}, "encoding": {"x": {"datum": -0.167}, "y": {"datum": -12.3}, "text": {"value": "MUA µ2"}}}
        ]}
      ]
    },
    {
      "width": 196, "height": 343,
      "resolve": {"scale": {"y": "independent"}},
      "layer": [
        {"data": {"name": "fa_m23"}, "layer": [
          {"mark": {"type": "line", "color": "#1a1a1a", "strokeWidth": 1.1}, "encoding": {"x": {"field": "t", "type": "quantitative", "scale": {"domain": [0, 2.5], "nice": false, "zero": false}, "axis": {"values": [0, 2.5], "format": ".2~g", "title": "Time (s)"}}, "y": {"field": "v", "type": "quantitative", "scale": {"domain": [-2084.2, 322.8], "nice": false, "zero": false}, "axis": null}}},
          {"data": {"values": [{}]}, "mark": {"type": "text", "align": "center", "baseline": "top", "fontSize": 21, "color": "#111"}, "encoding": {"x": {"datum": 1.25}, "y": {"datum": 589.5}, "text": {"value": "Fast Activity"}}}
        ]},
        {"data": {"name": "fa_m12"}, "mark": {"type": "line", "color": "#1a1a1a", "strokeWidth": 1.1}, "encoding": {"x": {"field": "t", "type": "quantitative", "scale": {"domain": [0, 2.5], "nice": false, "zero": false}, "axis": {"values": [0, 2.5], "format": ".2~g", "title": "Time (s)"}}, "y": {"field": "v", "type": "quantitative", "scale": {"domain": [-1768.4, 638.6], "nice": false, "zero": false}, "axis": null}}},
        {"data": {"name": "fa_l1"}, "mark": {"type": "area", "color": "#111", "stroke": "#111", "strokeWidth": 0.8}, "encoding": {"x": {"field": "t", "type": "quantitative", "scale": {"domain": [0, 2.5], "nice": false, "zero": false}, "axis": {"values": [0, 2.5], "format": ".2~g", "title": "Time (s)"}}, "y": {"field": "hi", "type": "quantitative", "scale": {"domain": [-329.8, 271.9], "nice": false, "zero": false}, "axis": null}, "y2": {"field": "lo"}}},
        {"data": {"name": "fa_l2"}, "mark": {"type": "area", "color": "#111", "stroke": "#111", "strokeWidth": 0.8}, "encoding": {"x": {"field": "t", "type": "quantitative", "scale": {"domain": [0, 2.5], "nice": false, "zero": false}, "axis": {"values": [0, 2.5], "format": ".2~g", "title": "Time (s)"}}, "y": {"field": "hi", "type": "quantitative", "scale": {"domain": [-242.1, 359.6], "nice": false, "zero": false}, "axis": null}, "y2": {"field": "lo"}}},
        {"data": {"name": "fa_u1"}, "mark": {"type": "area", "color": "#111", "stroke": "#111", "strokeWidth": 0.5}, "encoding": {"x": {"field": "t", "type": "quantitative", "scale": {"domain": [0, 2.5], "nice": false, "zero": false}, "axis": {"values": [0, 2.5], "format": ".2~g", "title": "Time (s)"}}, "y": {"field": "hi", "type": "quantitative", "scale": {"domain": [-136.8, 464.9], "nice": false, "zero": false}, "axis": null}, "y2": {"field": "lo"}}},
        {"data": {"name": "fa_u2"}, "mark": {"type": "area", "color": "#111", "stroke": "#111", "strokeWidth": 0.5}, "encoding": {"x": {"field": "t", "type": "quantitative", "scale": {"domain": [0, 2.5], "nice": false, "zero": false}, "axis": {"values": [0, 2.5], "format": ".2~g", "title": "Time (s)"}}, "y": {"field": "hi", "type": "quantitative", "scale": {"domain": [-61.4, 540.4], "nice": false, "zero": false}, "axis": null}, "y2": {"field": "lo"}}}
      ]
    },
    {
      "width": 196, "height": 343,
      "resolve": {"scale": {"y": "independent"}},
      "layer": [
        {"data": {"name": "ps_m23"}, "layer": [
          {"mark": {"type": "line", "color": "#1a1a1a", "strokeWidth": 1.1}, "encoding": {"x": {"field": "t", "type": "quantitative", "scale": {"domain": [0, 2.5], "nice": false, "zero": false}, "axis": {"values": [0, 2.5], "format": ".2~g", "title": "Time (s)"}}, "y": {"field": "v", "type": "quantitative", "scale": {"domain": [-2084.2, 322.8], "nice": false, "zero": false}, "axis": null}}},
          {"data": {"values": [{}]}, "mark": {"type": "text", "align": "center", "baseline": "top", "fontSize": 21, "color": "#111"}, "encoding": {"x": {"datum": 1.41}, "y": {"datum": 589.5}, "text": {"value": "Periodic Slow Waves"}}},
          {"data": {"values": [{}]}, "mark": {"type": "rule", "color": "#333", "strokeWidth": 1.2}, "encoding": {"x": {"datum": 2.615}, "y": {"datum": -200}, "y2": {"datum": 200}}},
          {"data": {"values": [{"v": -200}, {"v": 0}, {"v": 200}]}, "mark": {"type": "rule", "color": "#333", "strokeWidth": 1.2}, "encoding": {"x": {"datum": 2.615}, "x2": {"datum": 2.691}, "y": {"field": "v", "type": "quantitative"}}},
          {"data": {"values": [{}]}, "mark": {"type": "text", "align": "right", "baseline": "middle", "fontSize": 22, "font": "Liberation Sans", "color": "#111", "dy": -6}, "encoding": {"x": {"datum": 3.265}, "y": {"datum": 200}, "text": {"value": "200"}}},
          {"data": {"values": [{}]}, "mark": {"type": "text", "align": "right", "baseline": "middle", "fontSize": 22, "font": "Liberation Sans", "color": "#111", "dy": 7}, "encoding": {"x": {"datum": 3.265}, "y": {"datum": -200}, "text": {"value": "-200"}}}
        ]},
        {"data": {"name": "ps_m12"}, "mark": {"type": "line", "color": "#1a1a1a", "strokeWidth": 1.1}, "encoding": {"x": {"field": "t", "type": "quantitative", "scale": {"domain": [0, 2.5], "nice": false, "zero": false}, "axis": {"values": [0, 2.5], "format": ".2~g", "title": "Time (s)"}}, "y": {"field": "v", "type": "quantitative", "scale": {"domain": [-1768.4, 638.6], "nice": false, "zero": false}, "axis": null}}},
        {"data": {"name": "ps_l1"}, "layer": [
          {"mark": {"type": "line", "color": "#1a1a1a", "strokeWidth": 1.7}, "encoding": {"x": {"field": "t", "type": "quantitative", "scale": {"domain": [0, 2.5], "nice": false, "zero": false}, "axis": {"values": [0, 2.5], "format": ".2~g", "title": "Time (s)"}}, "y": {"field": "v", "type": "quantitative", "scale": {"domain": [-329.8, 271.9], "nice": false, "zero": false}, "axis": null}}},
          {"data": {"values": [{}]}, "mark": {"type": "rule", "color": "#333", "strokeWidth": 1.2}, "encoding": {"x": {"datum": 2.615}, "y": {"datum": -50}, "y2": {"datum": 50}}},
          {"data": {"values": [{"v": -50}, {"v": 0}, {"v": 50}]}, "mark": {"type": "rule", "color": "#333", "strokeWidth": 1.2}, "encoding": {"x": {"datum": 2.615}, "x2": {"datum": 2.691}, "y": {"field": "v", "type": "quantitative"}}},
          {"data": {"values": [{}]}, "mark": {"type": "text", "align": "right", "baseline": "middle", "fontSize": 22, "font": "Liberation Sans", "color": "#111", "dy": -2}, "encoding": {"x": {"datum": 3.265}, "y": {"datum": 50}, "text": {"value": "50"}}},
          {"data": {"values": [{}]}, "mark": {"type": "text", "align": "right", "baseline": "middle", "fontSize": 22, "font": "Liberation Sans", "color": "#111", "dy": 2}, "encoding": {"x": {"datum": 3.265}, "y": {"datum": -50}, "text": {"value": "-50"}}}
        ]},
        {"data": {"name": "ps_l2"}, "mark": {"type": "line", "color": "#1a1a1a", "strokeWidth": 1.7}, "encoding": {"x": {"field": "t", "type": "quantitative", "scale": {"domain": [0, 2.5], "nice": false, "zero": false}, "axis": {"values": [0, 2.5], "format": ".2~g", "title": "Time (s)"}}, "y": {"field": "v", "type": "quantitative", "scale": {"domain": [-242.1, 359.6], "nice": false, "zero": false}, "axis": null}}},
        {"data": {"name": "ps_u1"}, "layer": [
          {"mark": {"type": "area", "color": "#111", "stroke": "#111", "strokeWidth": 0.5}, "encoding": {"x": {"field": "t", "type": "quantitative", "scale": {"domain": [0, 2.5], "nice": false, "zero": false}, "axis": {"values": [0, 2.5], "format": ".2~g", "title": "Time (s)"}}, "y": {"field": "hi", "type": "quantitative", "scale": {"domain": [-136.8, 464.9], "nice": false, "zero": false}, "axis": null}, "y2": {"field": "lo"}}},
          {"data": {"values": [{}]}, "mark": {"type": "rule", "color": "#333", "strokeWidth": 1.2}, "encoding": {"x": {"datum": 2.615}, "y": {"datum": -50}, "y2": {"datum": 50}}},
          {"data": {"values": [{"hi": -50}, {"hi": 0}, {"hi": 50}]}, "mark": {"type": "rule", "color": "#333", "strokeWidth": 1.2}, "encoding": {"x": {"datum": 2.615}, "x2": {"datum": 2.691}, "y": {"field": "hi", "type": "quantitative"}}},
          {"data": {"values": [{}]}, "mark": {"type": "text", "align": "right", "baseline": "middle", "fontSize": 22, "font": "Liberation Sans", "color": "#111", "dy": 2}, "encoding": {"x": {"datum": 3.265}, "y": {"datum": 50}, "text": {"value": "50"}}},
          {"data": {"values": [{}]}, "mark": {"type": "text", "align": "right", "baseline": "middle", "fontSize": 22, "font": "Liberation Sans", "color": "#111", "dy": 2}, "encoding": {"x": {"datum": 3.265}, "y": {"datum": -50}, "text": {"value": "-50"}}}
        ]},
        {"data": {"name": "ps_u2"}, "mark": {"type": "area", "color": "#111", "stroke": "#111", "strokeWidth": 0.5}, "encoding": {"x": {"field": "t", "type": "quantitative", "scale": {"domain": [0, 2.5], "nice": false, "zero": false}, "axis": {"values": [0, 2.5], "format": ".2~g", "title": "Time (s)"}}, "y": {"field": "hi", "type": "quantitative", "scale": {"domain": [-61.4, 540.4], "nice": false, "zero": false}, "axis": null}, "y2": {"field": "lo"}}}
      ]
    }
  ]
}
